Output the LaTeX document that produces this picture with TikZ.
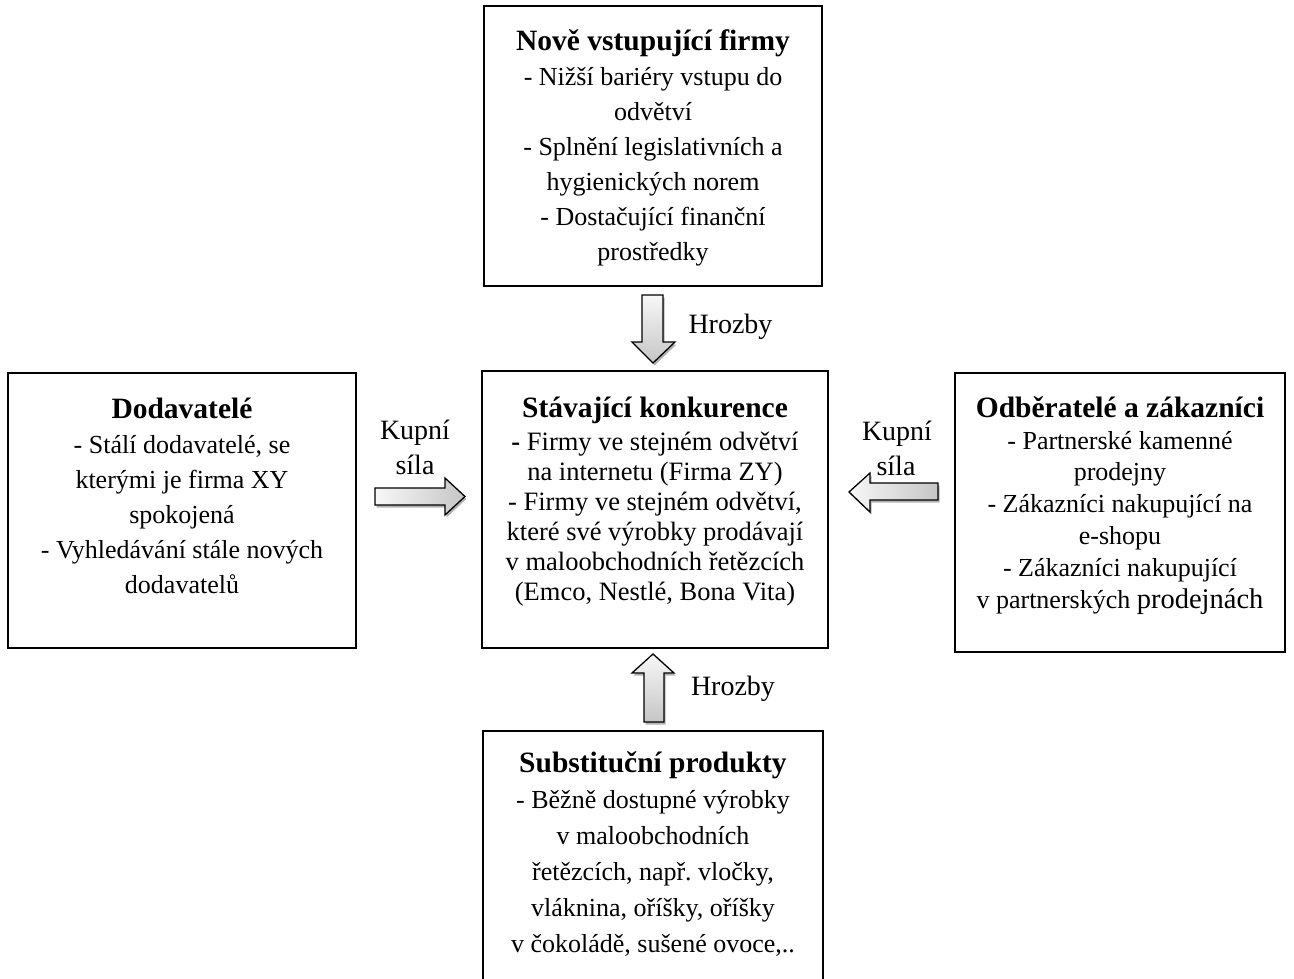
\documentclass[tikz,border=0pt]{standalone}
\usepackage{fontspec}
\setmainfont{Liberation Serif}
\usetikzlibrary{shadows}
\frenchspacing
\tikzset{
  box/.style={draw=black, line width=1.6pt, fill=white},
  txt/.style={anchor=north, align=center, inner sep=0pt},
  arrshadow/.style={drop shadow={shadow xshift=1.5pt, shadow yshift=-2.5pt, opacity=0.3, fill=black}},
  harrow/.style={draw=black, line width=1.3pt, line join=miter, arrshadow, left color=gray!6, right color=gray!45},
  varrow/.style={draw=black, line width=1.3pt, line join=miter, arrshadow, top color=gray!6, bottom color=gray!45},
  lbl/.style={anchor=base, inner sep=0pt, font=\fontsize{28}{32}\selectfont},
}
\newcommand{\ttl}[1]{{\fontsize{29.5}{35}\selectfont\bfseries #1}}
\newcommand{\topstrut}{\rule{0pt}{30pt}}
\begin{document}
\begin{tikzpicture}[x=1pt,y=-1pt]
\useasboundingbox (0,0) rectangle (1294,979);

% boxes
\node[box, minimum width=338pt, minimum height=280pt] (topbox) at (653,146) {};
\node[box, minimum width=348pt, minimum height=275pt] (leftbox) at (182,510.5) {};
\node[box, minimum width=346pt, minimum height=277pt] (centerbox) at (655,509.5) {};
\node[box, minimum width=330pt, minimum height=279pt] (rightbox) at (1120,512.5) {};
\node[box, minimum width=340pt, minimum height=259pt] (bottombox) at (653,860.5) {};

% texts
\node[txt, font=\fontsize{26}{35}\selectfont] (toptext) at (653,20) {\topstrut\ttl{Nově vstupující firmy}\\
- Nižší bariéry vstupu do\\
odvětví\\
- Splnění legislativních a\\
hygienických norem\\
- Dostačující finanční\\
prostředky};

\node[txt, font=\fontsize{26}{35}\selectfont] (lefttext) at (182,388) {\topstrut\ttl{Dodavatelé}\\
- Stálí dodavatelé, se\\
kterými je firma XY\\
spokojená\\
- Vyhledávání stále nových\\
dodavatelů};

\node[txt, font=\fontsize{26.5}{30}\selectfont] (centertext) at (655,387) {\topstrut\ttl{Stávající konkurence}\\[3pt]
\textbf{-} Firmy ve stejném odvětví\\
na internetu (Firma ZY)\\
- Firmy ve stejném odvětví,\\
které své výrobky prodávají\\
v maloobchodních řetězcích\\
(Emco, Nestlé, Bona Vita)};

\node[txt, font=\fontsize{26}{31.8}\selectfont] (righttext) at (1120,387) {\topstrut\ttl{Odběratelé a zákazníci}\\
- Partnerské kamenné\\
prodejny\\
- Zákazníci nakupující na\\
e-shopu\\
- Zákazníci nakupující\\
v partnerských {\fontsize{28.5}{31.8}\selectfont prodejnách}};

\node[txt, font=\fontsize{26}{36}\selectfont] (bottomtext) at (653,742) {\topstrut\ttl{Substituční produkty}\\
- Běžně dostupné výrobky\\
v maloobchodních\\
řetězcích, např. vločky,\\
vláknina, oříšky, oříšky\\
v čokoládě, sušené ovoce,..};

% block arrows
\draw[varrow] (642,295) -- (663,295) -- (663,342) -- (675,342) -- (653,363) -- (632,342) -- (642,342) -- cycle;
\draw[varrow] (644,722) -- (664,722) -- (664,673) -- (674,673) -- (653,654) -- (632,673) -- (644,673) -- cycle;
\draw[harrow] (375,488) -- (445,488) -- (445,478) -- (465,496.5) -- (445,515) -- (445,505) -- (375,505) -- cycle;
\draw[harrow] (938,483) -- (870,483) -- (870,473) -- (849,492) -- (870,512) -- (870,500) -- (938,500) -- cycle;

% labels
\node[lbl] (hrozby1) at (730.5,333) {Hrozby};
\node[lbl] (hrozby2) at (733,695) {Hrozby};
\node[lbl] (kupni1) at (415,439) {Kupní};
\node[lbl] (sila1) at (415,474) {síla};
\node[lbl] (kupni2) at (897,440) {Kupní};
\node[lbl] (sila2) at (896,475) {síla};
\end{tikzpicture}
\end{document}
